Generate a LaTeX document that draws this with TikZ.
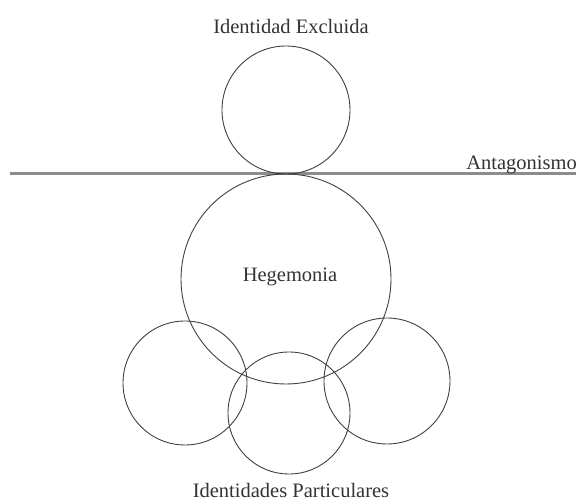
\documentclass[tikz,border=0pt]{standalone}
\usepackage{fontspec}
\setmainfont{Liberation Serif}
\begin{document}
\begin{tikzpicture}[x=1pt,y=-1pt,
  ring/.style={draw=black!75,line width=0.9pt},
  lbl/.style={font=\fontsize{20.5}{23}\selectfont,text=black!80,inner sep=0pt}]
\useasboundingbox (0,0) rectangle (576,502);
\coordinate (L) at (10,174);
\coordinate (R) at (576,174);
\draw[black!45,line width=3pt] (L) -- (R);
\node[ring,circle,minimum size=128pt,inner sep=0pt] (ex) at (286,110) {};
\node[ring,circle,minimum size=210pt,inner sep=0pt] (heg) at (286,279) {};
\node[ring,circle,minimum size=124pt,inner sep=0pt] (pl) at (185,383) {};
\node[ring,circle,minimum size=126pt,inner sep=0pt] (pr) at (387,381) {};
\node[ring,circle,minimum size=122pt,inner sep=0pt] (pb) at (289,413) {};
\node[lbl,anchor=base] (tex) at (291,34) {Identidad Excluida};
\node[lbl,anchor=base] (thg) at (290,282) {Hegemonia};
\node[lbl,anchor=base east] (tan) at (577,170) {Antagonismo};
\node[lbl,anchor=base] (tip) at (291,498) {Identidades Particulares};
\end{tikzpicture}
\end{document}
